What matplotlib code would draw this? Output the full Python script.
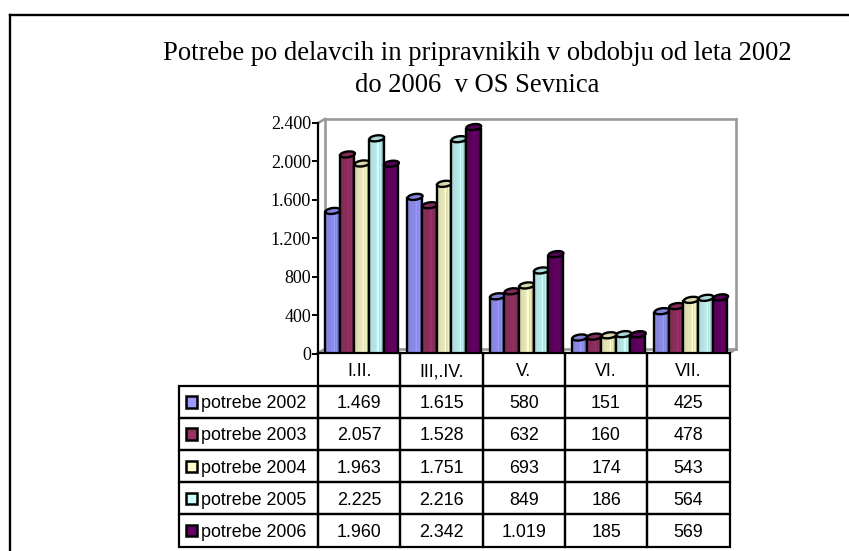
import matplotlib
matplotlib.use("Agg")
import matplotlib.pyplot as plt
from matplotlib.lines import Line2D
from matplotlib.patches import Ellipse, Rectangle
from matplotlib.transforms import IdentityTransform
import numpy as np

categories = ["I.II.", "III,.IV.", "V.", "VI.", "VII."]
series_names = ["potrebe 2002", "potrebe 2003", "potrebe 2004", "potrebe 2005", "potrebe 2006"]
potrebe_2002 = [1469, 1615, 580, 151, 425]
potrebe_2003 = [2057, 1528, 632, 160, 478]
potrebe_2004 = [1963, 1751, 693, 174, 543]
potrebe_2005 = [2225, 2216, 849, 186, 564]
potrebe_2006 = [1960, 2342, 1019, 185, 569]
series_values = [potrebe_2002, potrebe_2003, potrebe_2004, potrebe_2005, potrebe_2006]
colors = ["#9999FF", "#993366", "#FFFFCC", "#CCFFFF", "#660066"]
y_ticks = [0, 400, 800, 1200, 1600, 2000, 2400]
y_labels = ["0", "400", "800", "1.200", "1.600", "2.000", "2.400"]
title_text = "Potrebe po delavcih in pripravnikih v obdobju od leta 2002\ndo 2006  v OS Sevnica"

W, H = 849, 551
fig = plt.figure(figsize=(W / 100, H / 100), dpi=100, facecolor="white")

def fx(px): return px / W
def fy(py): return 1 - py / H

AX_L, AX_R, AX_T, AX_B = 318, 729.5, 123, 353.5
ax = fig.add_axes([fx(AX_L), fy(AX_B), (AX_R - AX_L) / W, (AX_B - AX_T) / H])
ax.set_xlim(0, len(categories))
ax.set_ylim(0, 2400)
ax.patch.set_alpha(0)
ax.set_zorder(1)

# outer frame (left and top only, running off the page)
for xs, ys in [((10, 10), (15, H)), ((10, W), (15, 15))]:
    fig.add_artist(Line2D([fx(v) for v in xs], [fy(v) for v in ys], color="black", lw=1.7, zorder=0.2))

# back wall
wall = "#999999"
for xs, ys in [((318, 325), (123, 119)), ((325, 736), (119, 119)), ((736, 736), (119, 349)),
               ((325, 736), (349, 349)), ((325, 325), (119, 349)),
               ((318, 325), (353, 349)), ((729, 736), (353, 349))]:
    fig.add_artist(Line2D([fx(v) for v in xs], [fy(v) for v in ys], color=wall, lw=1.9, zorder=0.5))

# cylindrical bars
shade = [0.86, 0.86, 0.87, 0.88, 0.89, 0.90, 0.92, 1.0, 0.88, 0.94, 0.82, 0.74]
bar_w = 0.178
n_s = len(series_values)

def tone(c, f):
    rgb = np.array(matplotlib.colors.to_rgb(c)) * f
    return tuple(np.clip(rgb, 0, 1))

for s, (vals, col) in enumerate(zip(series_values, colors)):
    for i, v in enumerate(vals):
        left = i + 0.5 + 0.03 + (s - n_s / 2) * bar_w
        px_c = ax.transData.transform((left + bar_w / 2, v))
        sw = bar_w / len(shade)
        for k, f in enumerate(shade):
            ax.bar(left + k * sw, v, width=sw * 1.05, align="edge", color=tone(col, f),
                   edgecolor="none", zorder=2 + s * 0.1)
        ax.bar(left, v, width=bar_w, align="edge", fill=False, edgecolor="black", lw=1.7,
               zorder=2 + s * 0.1)
        ax.add_patch(Ellipse((px_c[0] + 0.5, px_c[1] + 1.5), 15, 5.8, angle=8,
                             transform=IdentityTransform(), fc=tone(col, 0.85), ec="black",
                             lw=1.7, zorder=2.02 + s * 0.1, clip_on=False))

# axes
for name in ("top", "right", "bottom"):
    ax.spines[name].set_visible(False)
ax.spines["left"].set_linewidth(1.6)
ax.spines["left"].set_zorder(5)
ax.set_xticks([])
ax.set_yticks(y_ticks)
ax.set_yticklabels(y_labels, family="Liberation Serif", fontsize=13)
ax.tick_params(axis="y", length=4.5, width=1.4, pad=0.5, color="black")

# data table
TB_L, TB_T, TB_B = 179, 353.5, 546.5
cell_text = [[""] + categories]
for name, vals in zip(series_names, series_values):
    cell_text.append([name] + [f"{v:,}".replace(",", ".") for v in vals])
col_w = [AX_L - TB_L] + [(AX_R - AX_L) / len(categories)] * len(categories)
tw = AX_R - TB_L
bbox = [(TB_L - AX_L) / (AX_R - AX_L), -(TB_B - TB_T) / (AX_B - AX_T),
        tw / (AX_R - AX_L), (TB_B - TB_T) / (AX_B - AX_T)]
tbl = ax.table(cellText=cell_text, colWidths=[c / tw for c in col_w], bbox=bbox, cellLoc="center")
tbl.auto_set_font_size(False)
tbl.set_fontsize(12.9)
tbl.set_zorder(6)
for (r, c), cell in tbl.get_celld().items():
    cell.set_linewidth(1.6)
    cell.set_edgecolor("black")
    cell.set_facecolor("none")
    cell.get_text().set_family("Liberation Sans")
    cell.get_text().set_verticalalignment("center_baseline")
    if r == 0 and c == 0:
        cell.visible_edges = ""
    if c == 0 and r > 0:
        cell.PAD = 0.158
        cell.get_text().set_ha("left")
        cell._loc = "left"

# legend keys inside the table
row_h = (TB_B - TB_T) / 6
for r, col in enumerate(colors, start=1):
    cy = TB_T + row_h * (r + 0.5)
    fig.add_artist(Rectangle((fx(185.5), fy(cy + 6)), 11.5 / W, 11.5 / H, transform=fig.transFigure,
                             fc=col, ec="black", lw=1.8, zorder=7))

# title
fig.text(fx(477), fy(54), title_text.split("\n")[0], ha="center", va="center",
         family="Liberation Serif", fontsize=19.2, color="black")
fig.text(fx(477), fy(85), title_text.split("\n")[1], ha="center", va="center",
         family="Liberation Serif", fontsize=19.2, color="black")

fig.savefig("out.png", dpi=100, facecolor="white")
